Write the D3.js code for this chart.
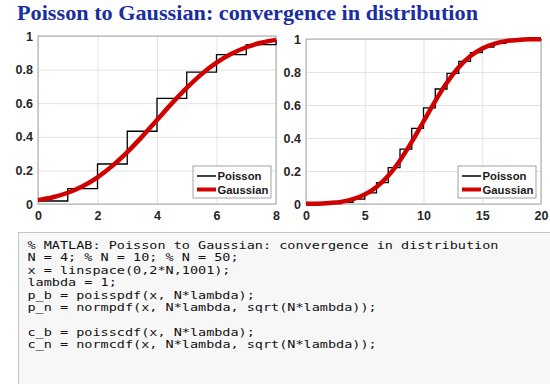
<!DOCTYPE html>
<html>
<head>
<meta charset="utf-8">
<script src="https://cdn.jsdelivr.net/npm/d3@7"></script>
<style>
  body { margin: 0; background: #fff; }
  svg { display: block; }
  .tick text { font-family: "Liberation Sans", Arial, sans-serif; font-weight: bold; }
</style>
</head>
<body>
<svg id="chart" width="550" height="384"></svg>
<script>
// values
const leftK = [0, 1, 2, 3, 4, 5, 6, 7, 8];
const leftPoisson = [0.018, 0.092, 0.238, 0.433, 0.629, 0.785, 0.889, 0.949, 0.979];
const leftGaussX = [0, 0.5, 1, 1.5, 2, 2.5, 3, 3.5, 4, 4.5, 5, 5.5, 6, 6.5, 7, 7.5, 8];
const leftGauss = [0.023, 0.040, 0.067, 0.106, 0.159, 0.227, 0.309, 0.401, 0.5,
  0.599, 0.691, 0.773, 0.841, 0.894, 0.933, 0.960, 0.977];

const rightK = [0, 1, 2, 3, 4, 5, 6, 7, 8, 9, 10, 11, 12, 13, 14, 15, 16, 17, 18, 19, 20];
const rightPoisson = [0.000, 0.000, 0.003, 0.010, 0.029, 0.067, 0.130, 0.220, 0.333, 0.458,
  0.583, 0.697, 0.792, 0.865, 0.917, 0.951, 0.973, 0.986, 0.993, 0.997, 0.998];
const rightGaussX = rightK;
const rightGauss = [0.001, 0.002, 0.006, 0.013, 0.029, 0.057, 0.103, 0.171, 0.264, 0.376,
  0.5, 0.624, 0.736, 0.829, 0.897, 0.943, 0.971, 0.987, 0.994, 0.998, 0.999];

const leftXTicks = [0, 2, 4, 6, 8];
const rightXTicks = [0, 5, 10, 15, 20];
const yTicks = [0, 0.2, 0.4, 0.6, 0.8, 1];
const seriesNames = ['Poisson', 'Gaussian'];

const titleText = 'Poisson to Gaussian: convergence in distribution';
const codeLines = [
  '% MATLAB: Poisson to Gaussian: convergence in distribution',
  'N = 4; % N = 10; % N = 50;',
  'x = linspace(0,2*N,1001);',
  'lambda = 1;',
  'p_b = poisspdf(x, N*lambda);',
  'p_n = normpdf(x, N*lambda, sqrt(N*lambda));',
  '',
  'c_b = poisscdf(x, N*lambda);',
  'c_n = normcdf(x, N*lambda, sqrt(N*lambda));',
];

const svg = d3.select('#chart');
svg.append('rect').attr('width', 550).attr('height', 384).attr('fill', '#fff');

// title
svg.append('text')
  .attr('x', 17)
  .attr('y', 20)
  .attr('font-family', '"Liberation Serif", "Times New Roman", serif')
  .attr('font-weight', 'bold')
  .attr('font-size', 22)
  .attr('textLength', 461)
  .attr('lengthAdjust', 'spacingAndGlyphs')
  .attr('fill', '#1a2ea0')
  .text(titleText);

const panels = [
  { x0: 38, x1: 276, y0: 36, y1: 204, domain: [0, 8], ticks: leftXTicks,
    k: leftK, poisson: leftPoisson, gx: leftGaussX, gauss: leftGauss },
  { x0: 306, x1: 541, y0: 39, y1: 204, domain: [0, 20], ticks: rightXTicks,
    k: rightK, poisson: rightPoisson, gx: rightGaussX, gauss: rightGauss },
];

panels.forEach((p) => {
  const x = d3.scaleLinear().domain(p.domain).range([p.x0, p.x1]);
  const y = d3.scaleLinear().domain([0, 1]).range([p.y1, p.y0]);
  const g = svg.append('g');

  g.append('rect')
    .attr('x', p.x0).attr('y', p.y0)
    .attr('width', p.x1 - p.x0).attr('height', p.y1 - p.y0)
    .attr('fill', '#fff');

  // grid
  g.append('g')
    .attr('transform', `translate(0,${p.y1})`)
    .call(d3.axisBottom(x).tickValues(p.ticks).tickSize(-(p.y1 - p.y0)).tickFormat(''))
    .call((s) => s.select('.domain').remove())
    .call((s) => s.selectAll('line').attr('stroke', '#e3e3e3'));
  g.append('g')
    .attr('transform', `translate(${p.x0},0)`)
    .call(d3.axisLeft(y).tickValues(yTicks).tickSize(-(p.x1 - p.x0)).tickFormat(''))
    .call((s) => s.select('.domain').remove())
    .call((s) => s.selectAll('line').attr('stroke', '#e3e3e3'));

  // box
  g.append('rect')
    .attr('x', p.x0).attr('y', p.y0)
    .attr('width', p.x1 - p.x0).attr('height', p.y1 - p.y0)
    .attr('fill', 'none').attr('stroke', '#a6a6a6').attr('stroke-width', 1);

  // tick labels
  g.append('g')
    .attr('transform', `translate(0,${p.y1})`)
    .call(d3.axisBottom(x).tickValues(p.ticks).tickSize(0).tickPadding(7).tickFormat(d3.format('d')))
    .call((s) => s.select('.domain').remove())
    .call((s) => s.selectAll('text').attr('font-size', 12.5).attr('fill', '#262626'));
  g.append('g')
    .attr('transform', `translate(${p.x0},0)`)
    .call(d3.axisLeft(y).tickValues(yTicks).tickSize(0).tickPadding(5).tickFormat((d) => String(d)))
    .call((s) => s.select('.domain').remove())
    .call((s) => s.selectAll('text').attr('font-size', 12.5).attr('fill', '#262626'));

  // Poisson steps
  const step = d3.line().curve(d3.curveStepAfter)
    .x((d, i) => x(p.k[i])).y((d) => y(d));
  g.append('path')
    .attr('d', step(p.poisson))
    .attr('fill', 'none').attr('stroke', '#000').attr('stroke-width', 1.3);

  // Gaussian curve
  const smooth = d3.line().curve(d3.curveMonotoneX)
    .x((d, i) => x(p.gx[i])).y((d) => y(d));
  g.append('path')
    .attr('d', smooth(p.gauss))
    .attr('fill', 'none').attr('stroke', '#d00000').attr('stroke-width', 4.5);

  // legend
  const lx = p.x1 - 83;
  const ly = p.y1 - 38;
  const leg = g.append('g').attr('transform', `translate(${lx},${ly})`);
  leg.append('rect')
    .attr('width', 78).attr('height', 32)
    .attr('fill', '#fff').attr('stroke', '#8c8c8c').attr('stroke-width', 0.8);
  seriesNames.forEach((name, i) => {
    const yy = 10 + i * 13.5;
    leg.append('line')
      .attr('x1', 4).attr('x2', 23).attr('y1', yy).attr('y2', yy)
      .attr('stroke', i === 0 ? '#000' : '#d00000')
      .attr('stroke-width', i === 0 ? 1.5 : 4);
    leg.append('text')
      .attr('x', 24.5).attr('y', yy + 4)
      .attr('font-family', '"Liberation Sans", Arial, sans-serif')
      .attr('font-weight', 'bold')
      .attr('font-size', 11.3)
      .attr('fill', '#1a1a1a')
      .text(name);
  });
});

// code block
svg.append('rect')
  .attr('x', 18.5).attr('y', 232.5)
  .attr('width', 560).attr('height', 200)
  .attr('fill', '#f7f7f7').attr('stroke', '#c6c6c6').attr('stroke-width', 1);

const charW = 8.12;
svg.append('g')
  .selectAll('text')
  .data(codeLines.map((t, i) => ({ t, i })).filter((d) => d.t.length))
  .join('text')
  .attr('x', 27.5)
  .attr('y', (d) => 249 + d.i * 12.4)
  .attr('font-family', '"DejaVu Sans Mono", "Liberation Mono", monospace')
  .attr('font-size', 10.5)
  .attr('textLength', (d) => d.t.length * charW)
  .attr('lengthAdjust', 'spacingAndGlyphs')
  .attr('fill', '#111')
  .style('white-space', 'pre')
  .text((d) => d.t);
</script>
</body>
</html>
